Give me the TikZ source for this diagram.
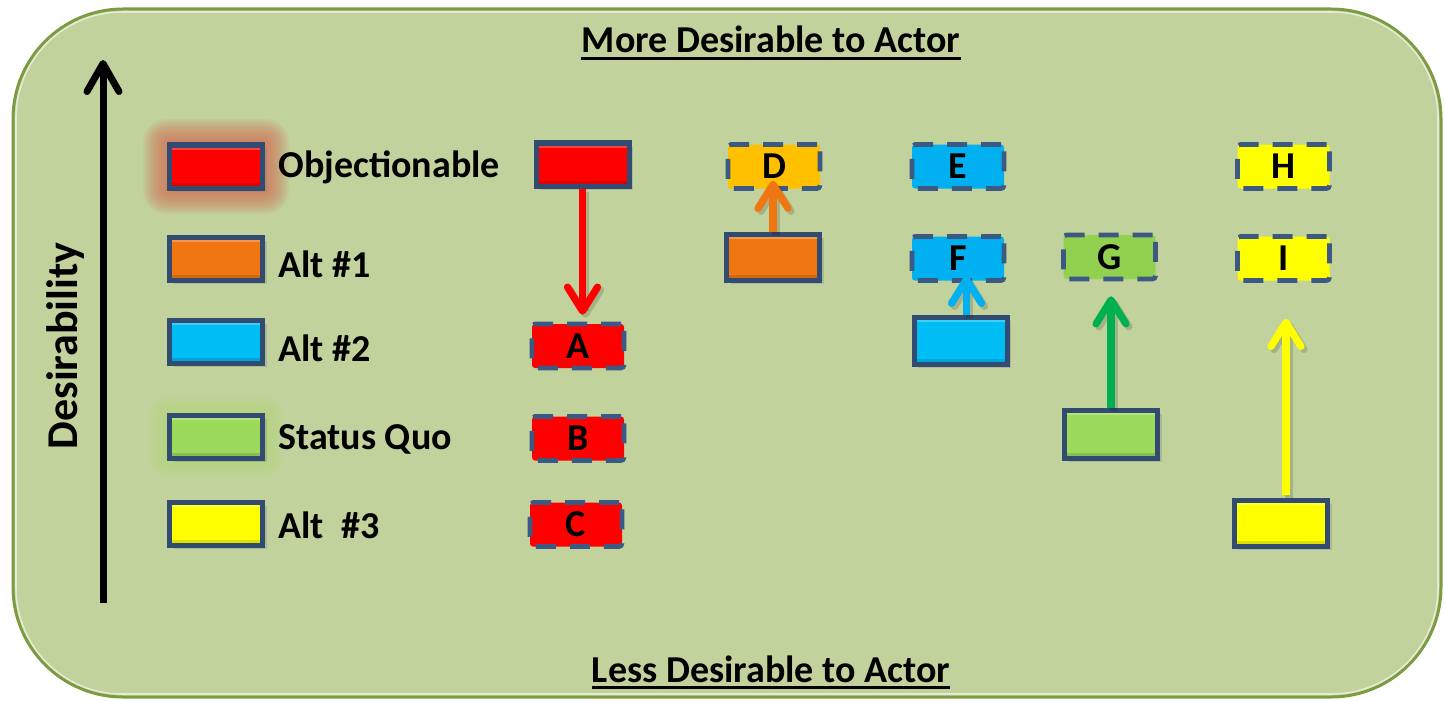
\documentclass[tikz,border=0pt]{standalone}
\usepackage{fontspec}
\setmainfont{Carlito}
\usetikzlibrary{arrows.meta,shadows,calc}
\definecolor{bgfill}{RGB}{193,210,157}
\definecolor{bgedge}{RGB}{125,155,65}
\definecolor{edgeblue}{RGB}{59,89,130}
\definecolor{solidedge}{RGB}{50,75,112}
\definecolor{cred}{RGB}{255,0,0}
\definecolor{corange}{RGB}{240,118,18}
\definecolor{cgold}{RGB}{255,192,0}
\definecolor{cblue}{RGB}{0,176,240}
\definecolor{csolidblue}{RGB}{0,190,245}
\definecolor{cgreen}{RGB}{146,208,80}
\definecolor{csgreen}{RGB}{155,218,90}
\definecolor{cdkgreen}{RGB}{0,176,80}
\definecolor{cyellow}{RGB}{255,255,0}
\definecolor{glowred}{RGB}{215,105,80}
\definecolor{glowgreen}{RGB}{175,225,110}
\tikzset{
  solidbox/.style={draw=solidedge, line width=2.5pt, minimum width=46.5pt, minimum height=21.5pt, inner sep=0pt,
    drop shadow={shadow xshift=2pt, shadow yshift=-2pt, opacity=0.3},
    path picture={\fill[white,opacity=0.25] (path picture bounding box.north west) rectangle ([yshift=-2.5pt]path picture bounding box.north east);
                  \fill[black,opacity=0.12] (path picture bounding box.south west) rectangle ([yshift=2.5pt]path picture bounding box.south east);}},
  dashbox/.style={draw=edgeblue, line width=2.3pt, dash pattern=on 10pt off 7pt, rounded corners=1.5pt,
    minimum width=46pt, minimum height=22pt, inner sep=0pt, font=\bfseries\fontsize{19}{22}\selectfont},
  lbl/.style={anchor=west, inner sep=0pt, font=\bfseries\fontsize{19}{22}\selectfont},
  colarrow/.style={line width=3.6pt, -{Straight Barb[length=12pt,width=15pt,line cap=round,line join=round]}},
  arrshadow/.style={colarrow, draw=black, opacity=0.15, transform canvas={shift={(1.5pt,-1.5pt)}}},
}
\begin{document}
\begin{tikzpicture}[x=0.5pt,y=-0.5pt]
\useasboundingbox (0,0) rectangle (1445,701);
% frame
\draw[fill=bgfill, draw=bgedge, line width=1.5pt, rounded corners=55pt] (13,9) rectangle (1441,697);
\draw[draw=white!55!bgfill, line width=0.8pt, rounded corners=53pt] (16,12) rectangle (1438,694);
% glows
\foreach \d in {2,4,...,24} {
  \fill[glowred, opacity=0.09, rounded corners=\d*0.5pt] (167-\d,143-\d) rectangle (265+\d,190+\d);
}
\foreach \d in {2,4,...,18} {
  \fill[glowgreen, opacity=0.07, rounded corners=\d*0.5pt] (167-\d,413-\d) rectangle (265+\d,460+\d);
}
% axis
\coordinate (axb) at (103,603);
\coordinate (axt) at (103,60);
\draw[line width=3.5pt, -{Straight Barb[length=14pt,width=16pt,line cap=round,line join=round]}] (axb) -- (axt);
\node[rotate=90, font=\bfseries\fontsize{22}{26}\selectfont, inner sep=0pt] (ylab) at (66,346) {Desirability};
% titles
\node[anchor=base, inner sep=0pt, font=\bfseries\fontsize{19}{22}\selectfont] (ttop) at (771,53) {More Desirable to Actor};
\draw[line width=1.3pt] ([yshift=-2.8pt]ttop.base west) -- ([yshift=-2.8pt]ttop.base east);
\node[anchor=base, inner sep=0pt, font=\bfseries\fontsize{19}{22}\selectfont] (tbot) at (771,682) {Less Desirable to Actor};
\draw[line width=1.3pt] ([yshift=-2.8pt]tbot.base west) -- ([yshift=-2.8pt]tbot.base east);
% legend
\node[solidbox, fill=cred] (leg1) at (216,166.5) {};
\node[solidbox, fill=corange] (leg2) at (216,258.5) {};
\node[solidbox, fill=csolidblue] (leg3) at (216,341.5) {};
\node[solidbox, fill=csgreen] (leg4) at (216,436.5) {};
\node[solidbox, fill=cyellow] (leg5) at (216,523.5) {};
\node[lbl] (lt1) at (278,167) {Objectionable};
\node[lbl] (lt2) at (278,264) {Alt \#1};
\node[lbl] (lt3) at (278,348) {Alt \#2};
\node[lbl] (lt4) at (278,439) {Status Quo};
\node[lbl] (lt5) at (278,525) {Alt~ \#3};
% column 1
\node[solidbox, fill=cred] (s1) at (582.5,164.5) {};
\node[dashbox, fill=cred] (A) at (578,346) {A};
\node[dashbox, fill=cred] (B) at (578,438.5) {B};
\node[dashbox, fill=cred] (C) at (576,524.5) {C};
% column 2
\node[dashbox, fill=cgold] (D) at (774,166.5) {D};
\node[solidbox, fill=corange, minimum height=23pt] (s2) at (773,257) {};
% column 3
\node[dashbox, fill=cblue] (E) at (958,166.5) {E};
\node[dashbox, fill=cblue] (F) at (958,258.5) {F};
\node[solidbox, fill=csolidblue, minimum height=23.5pt] (s3) at (960.5,340.5) {};
% column 4
\node[dashbox, fill=cgreen] (G) at (1109.5,257) {G};
\node[solidbox, fill=csgreen, minimum height=24pt] (s4) at (1111,434) {};
% column 5
\node[dashbox, fill=cyellow] (H) at (1283.5,166.5) {H};
\node[dashbox, fill=cyellow] (I) at (1283.5,258.5) {I};
\node[solidbox, fill=cyellow, minimum height=23pt] (s5) at (1281,523) {};
% arrows (shadows)
\draw[arrshadow] (s1.south) -- ([yshift=3.5pt]s1.south |- A.north);
\draw[arrshadow] (s2.north) -- ([yshift=5pt]s2.north |- D.south);
\draw[arrshadow] ([xshift=3pt]s3.north) -- ([xshift=3pt,yshift=3.5pt]s3.north |- F.south);
\draw[arrshadow] (s4.north) -- ([yshift=-7.5pt]s4.north |- G.south);
\draw[arrshadow] ([xshift=2.5pt,yshift=1.5pt]s5.north) -- ([xshift=2.5pt,yshift=-18pt]s5.north |- I.south);
% arrows
\draw[colarrow, draw=cred] (s1.south) -- ([yshift=3.5pt]s1.south |- A.north);
\draw[colarrow, draw=corange] (s2.north) -- ([yshift=5pt]s2.north |- D.south);
\draw[colarrow, draw=cblue] ([xshift=3pt]s3.north) -- ([xshift=3pt,yshift=3.5pt]s3.north |- F.south);
\draw[colarrow, draw=cdkgreen] (s4.north) -- ([yshift=-7.5pt]s4.north |- G.south);
\draw[colarrow, draw=cyellow] ([xshift=2.5pt,yshift=1.5pt]s5.north) -- ([xshift=2.5pt,yshift=-18pt]s5.north |- I.south);
\end{tikzpicture}
\end{document}
